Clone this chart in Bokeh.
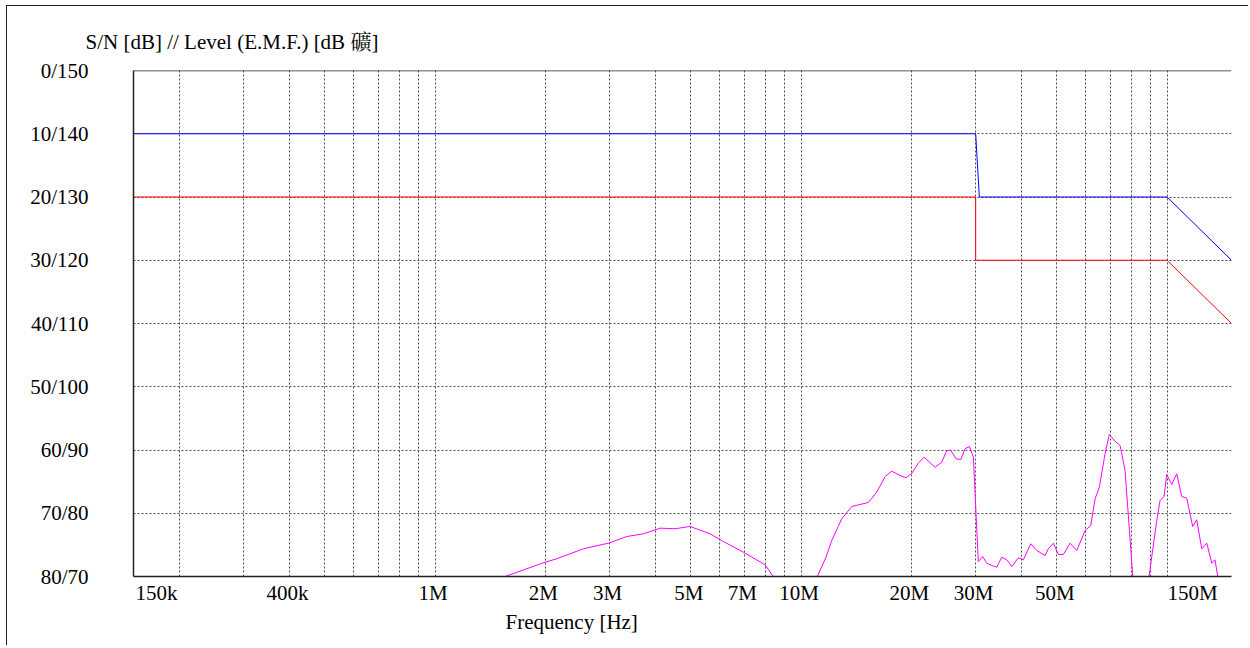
import numpy as np
from bokeh.plotting import figure
from bokeh.models import FixedTicker, Title, Span, Range1d
from bokeh.embed import file_html
from bokeh.resources import INLINE

FONT = '"Liberation Serif", "Noto Serif CJK TC", "Noto Sans CJK TC", serif'
FS = "21px"

# ---- data (frequencies in MHz, levels in dB uV) ----
blue_freq_mhz = [0.15, 30.0, 30.7, 100.0, 150.0]
blue_level = [140, 140, 130, 130, 120]

red_freq_mhz = [0.15, 30.0, 30.0, 100.0, 150.0]
red_level = [130, 130, 120, 120, 110]

nan = float("nan")
noise_freq_mhz = [
    1.554, 1.998, 2.150, 2.543, 2.975, 3.341, 3.708, 4.119, 4.526, 4.974,
    5.642, 6.135, 6.957, 7.974, 8.402, nan,
    11.08, 11.70, 12.13, 12.92, 13.76, 15.27, 16.10, 16.97, 17.69, 18.64,
    19.36, 20.07, 20.92, 21.68, 23.24, 24.24, 25.01, 25.65, 26.52, 27.31,
    28.06, 28.83, 29.57, 30.50, 31.36, 32.17, 33.19, 34.25, 35.35, 36.48,
    37.65, 39.24, 40.50, 42.43, 44.06, 46.42, 47.39, 48.90, 50.47, 52.08,
    54.33, 56.67, 59.70, 61.88, 63.59, 65.32, 67.70, 69.56, 72.11, 74.41,
    76.78, 80.6, nan,
    89.30, 93.73, 95.70, 98.13, 99.81, 103.0, 106.3, 109.7, 113.2, 117.5,
    120.5, 124.4, 128.4, 132.5, 135.2, 137.6,
]
noise_level = [
    70.0, 72.26, 72.8, 74.38, 75.27, 76.32, 76.75, 77.64, 77.55, 77.91,
    76.75, 75.53, 73.84, 71.85, 70.0, nan,
    70.0, 73.05, 75.69, 79.12, 81.07, 81.7, 83.33, 85.81, 86.65, 85.97,
    85.6, 86.33, 87.91, 88.86, 87.28, 88.07, 89.92, 89.97, 88.61, 88.5,
    90.19, 90.55, 88.86, 72.37, 73.16, 72.1, 71.74, 71.47, 73.05, 72.64,
    71.58, 72.96, 72.64, 75.17, 74.11, 73.32, 74.38, 75.27, 73.48, 73.48,
    75.27, 74.11, 77.27, 78.06, 82.28, 84.12, 89.4, 92.45, 91.39, 90.71,
    86.76, 70.0, nan,
    70.0, 78.85, 82.02, 82.65, 86.13, 84.55, 86.24, 82.65, 82.38, 77.91,
    78.96, 74.38, 75.27, 72.1, 72.64, 70.0,
]

x_ticks_hz = [150000, 400000, 1000000, 2000000, 3000000, 5000000, 7000000,
              10000000, 20000000, 30000000, 50000000, 150000000]
x_tick_labels = ["150k", "400k", "1M", "2M", "3M", "5M", "7M",
                 "10M", "20M", "30M", "50M", "150M"]

level_ticks = [150, 140, 130, 120, 110, 100, 90, 80, 70]
sn_ticks = [0, 10, 20, 30, 40, 50, 60, 70, 80]

title_text = "S/N [dB] // Level (E.M.F.) [dB 礦]"
x_title = "Frequency [Hz]"

# ---- figure ----
f_min, f_max = x_ticks_hz[0], x_ticks_hz[-1]
FRAME_W = 1098
p = figure(width=1242, height=640, x_axis_type="log",
           x_range=Range1d(f_min, f_max), y_range=Range1d(min(level_ticks), max(level_ticks)),
           output_backend="svg", toolbar_location=None,
           min_border_left=126, min_border_right=18, min_border_top=64, min_border_bottom=70)
p.styles = {"border-left": "1px solid #222", "border-top": "1px solid #222",
            "margin-left": "6px", "margin-top": "5px"}
p.outline_line_color = None
p.background_fill_color = "white"
p.border_fill_color = "white"

# title
p.title.text = title_text
p.title.align = "left"
p.title.offset = -48
p.title.text_font = FONT
p.title.text_font_size = FS
p.title.text_font_style = "normal"
p.title.text_color = "black"
p.title.standoff = 34

# grid
grid_hz = [m * 10 ** e for e in (5, 6, 7) for m in range(1, 10) if f_min < m * 10 ** e < f_max] + [100000000, f_max]
p.xgrid.ticker = FixedTicker(ticks=grid_hz)
p.ygrid.ticker = FixedTicker(ticks=level_ticks)
for g in (p.xgrid, p.ygrid):
    g.grid_line_color = "#4d4d4d"
    g.grid_line_dash = "2 2"
    g.grid_line_width = 1

# x axis labels: the two edge labels are nudged inward (as in the original), others centred
px_per_decade = FRAME_W / np.log10(f_max / f_min)
label_shift_px = [23] + [-2] * (len(x_ticks_hz) - 2) + [-39]
label_pos = [float(t * 10 ** (s / px_per_decade)) for t, s in zip(x_ticks_hz, label_shift_px)]

xa = p.xaxis[0]
xa.ticker = FixedTicker(ticks=label_pos)
xa.major_label_overrides = {pos: lab for pos, lab in zip(label_pos, x_tick_labels)}
ya = p.yaxis[0]
ya.ticker = FixedTicker(ticks=level_ticks)
ya.major_label_overrides = {lv: f"{sn}/{lv}" for lv, sn in zip(level_ticks, sn_ticks)}
for ax in (xa, ya):
    ax.major_tick_line_color = None
    ax.minor_tick_line_color = None
    ax.major_tick_out = 0
    ax.major_tick_in = 0
    ax.axis_line_color = "#222222"
    ax.axis_line_width = 1.5
    ax.major_label_text_font = FONT
    ax.major_label_text_font_size = FS
    ax.major_label_text_color = "black"
xa.major_label_standoff = 4
ya.major_label_standoff = 45

# top frame line
p.add_layout(Span(location=max(level_ticks), dimension="width", line_color="#222222", line_width=1.5))

# x axis title
p.add_layout(Title(text=x_title, align="left", offset=372, text_font=FONT, text_font_size=FS,
                   text_font_style="normal", text_color="black", standoff=0), "below")

# lines
p.line(np.array(blue_freq_mhz) * 1e6, blue_level, line_color="#0000ff", line_width=1)
p.line(np.array(red_freq_mhz) * 1e6, red_level, line_color="#ff0000", line_width=1)
p.line(np.array(noise_freq_mhz) * 1e6, noise_level, line_color="#ff00ff", line_width=1)

open("out.html", "w").write(file_html(p, INLINE))
